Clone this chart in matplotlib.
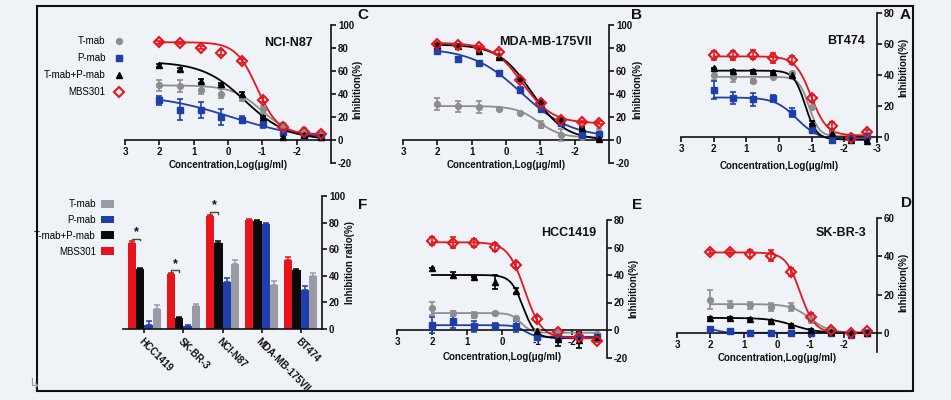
import numpy as np
import matplotlib
matplotlib.use('Agg')
import matplotlib.pyplot as plt
from matplotlib.patches import Rectangle, Patch
from matplotlib.lines import Line2D

plt.rcParams['font.family'] = ['Liberation Sans', 'DejaVu Sans']
plt.rcParams['axes.unicode_minus'] = False

W, H = 951, 400
BG = '#eff3f7'

# ---------------- data ----------------
LOG_CONC = [2.0, 1.398, 0.796, 0.194, -0.408, -1.010, -1.612, -2.214, -2.700]
SERIES = ['T-mab', 'P-mab', 'T-mab+P-mab', 'MBS301']

# A: BT474
bt474_t = [39.8, 38.5, 36.1, 39.0, 41.1, 19.3, 2.6, 0.4, 1.5]
bt474_p = [30.3, 25.3, 24.2, 24.9, 15.6, 4.8, -1.7, -0.5, 0.9]
bt474_tp = [44.2, 42.6, 42.6, 42.0, 40.0, 9.1, 2.6, -1.7, -2.8]
bt474_mbs = [52.8, 52.8, 53.2, 50.9, 49.8, 24.9, 7.4, -0.6, 3.2]
bt474_t_err = [3, 3, 1, 1, 1, 1, 1, 1, 1]
bt474_p_err = [6, 4, 4, 2, 3, 1.5, 1, 1, 1]
bt474_tp_err = [0.5, 0.5, 0.5, 0.5, 0.5, 1, 0.5, 0.5, 0.5]
bt474_mbs_err = [3, 3, 3, 3, 2.5, 2.5, 2.5, 1, 1.5]
# fitted curves: top, bottom, logIC50, hill
bt474_t_fit = [38.8, 0.5, -0.92, 2.8]
bt474_p_fit = [25.5, -2.0, -0.55, 1.3]
bt474_tp_fit = [42.8, -1.5, -0.80, 2.5]
bt474_mbs_fit = [52.0, 1.0, -0.98, 1.8]

# B: MDA-MB-175VII
mda_t = [31.3, 29.2, 28.7, 26.9, 23.4, 13.2, 4.4, 2.9, 5.8]
mda_p = [77.5, 70.8, 67.3, 57.9, 43.9, 26.9, 14.6, 4.4, 5.3]
mda_tp = [82.5, 81.9, 77.5, 72.5, 54.0, 33.6, 17.5, 10.2, 0.6]
mda_mbs = [83.9, 82.7, 81.0, 76.6, 52.6, 32.2, 17.0, 15.5, 15.2]
mda_t_err = [5, 5, 5, 1, 1, 3, 5, 1, 4]
mda_p_err = [1, 1, 1, 1, 2, 1, 1, 1, 1]
mda_tp_err = [1, 1, 1, 1, 1, 1, 1, 1, 1]
mda_mbs_err = [1, 1, 1, 2, 2, 2, 1, 1, 1]
mda_t_fit = [29.5, 2.0, -0.95, 1.3]
mda_p_fit = [80.0, 2.0, -0.45, 0.6]
mda_tp_fit = [83.0, 0.0, -0.75, 0.9]
mda_mbs_fit = [84.5, 14.5, -0.48, 1.0]

# C: NCI-N87
nci_t = [47.4, 47.0, 43.9, 40.4, 36.5, 26.9, 13.2, 7.3, 4.4]
nci_p = [34.5, 26.3, 25.7, 19.9, 17.5, 13.7, 7.3, 3.5, 2.3]
nci_tp = [64.9, 61.4, 51.2, 49.0, 40.0, 20.0, 2.3, 4.4, 3.0]
nci_mbs = [84.8, 84.5, 80.4, 76.0, 68.7, 35.0, 11.7, 7.3, 5.3]
nci_t_err = [5, 5, 4, 4, 3, 3, 2, 3, 2]
nci_p_err = [4, 9, 7, 7, 3, 3, 2, 1, 1]
nci_tp_err = [1, 1, 2, 1, 2, 1, 1, 1, 1]
nci_mbs_err = [1, 1, 1, 2, 2, 2, 1, 2, 2]
nci_t_fit = [47.5, 3.0, -1.0, 1.0]
nci_p_fit = [40.0, 0.0, -0.1, 0.4]
nci_tp_fit = [68.0, 0.0, -0.5, 0.7]
nci_mbs_fit = [85.0, 5.0, -0.85, 1.4]

# D: SK-BR-3
skbr_t = [17.4, 14.8, 14.3, 13.4, 13.6, 7.3, 0.8, 0.0, 0.0]
skbr_p = [2.1, 0.9, 0.0, 0.0, 0.0, 0.0, 0.0, -0.9, 0.0]
skbr_tp = [7.8, 7.8, 7.3, 6.1, 4.3, 1.4, 0.5, 0.0, 0.0]
skbr_mbs = [42.1, 42.1, 41.4, 40.3, 31.8, 8.3, 1.7, 0.0, 0.9]
skbr_t_err = [5, 2, 2, 2, 2, 2, 1, 0.5, 0.5]
skbr_p_err = [1, 0.5, 0.5, 0.5, 0.5, 0.5, 0.5, 0.5, 0.5]
skbr_tp_err = [0.5] * 9
skbr_mbs_err = [1, 1, 2, 3, 2, 2, 1, 0.5, 0.5]
skbr_t_fit = [15.0, 0.0, -1.0, 1.5]
skbr_p_fit = [2.5, 0.0, 1.8, 3.0]
skbr_tp_fit = [7.8, 0.0, -0.5, 1.2]
skbr_mbs_fit = [42.0, 0.0, -0.7, 2.0]

# E: HCC1419
hcc_t = [15.7, 12.1, 10.9, 12.1, 8.5, -1.0, -1.0, -4.0, -3.0]
hcc_p = [3.6, 6.8, 2.9, 2.9, 2.9, -4.8, -5.0, -5.0, -4.8]
hcc_tp = [44.8, 40.0, 38.3, 35.1, 28.6, -1.0, -6.8, -7.3, -4.8]
hcc_mbs = [64.6, 63.4, 63.4, 60.5, 47.2, 8.0, -1.5, -4.8, -7.7]
hcc_t_err = [5, 2, 2, 1, 1, 1, 1, 1, 1]
hcc_p_err = [6, 5, 4, 2, 4, 1, 1, 2, 1]
hcc_tp_err = [0, 2, 0, 5, 2, 1, 5, 6, 2]
hcc_mbs_err = [3, 4, 3, 3, 2, 2, 2, 2, 1]
hcc_t_fit = [12.3, -2.0, -0.55, 3.0]
hcc_p_fit = [3.5, -5.0, -0.65, 3.0]
hcc_tp_fit = [40.0, -6.0, -0.6, 2.5]
hcc_mbs_fit = [63.8, -6.0, -0.65, 1.8]

# F: bar chart
cell_lines = ['BT474', 'MDA-MB-175VII', 'NCI-N87', 'SK-BR-3', 'HCC1419']
bar_t = [40, 33, 49, 17, 15]
bar_p = [29, 79, 35, 2, 3]
bar_tp = [44, 81, 65, 8, 45]
bar_mbs = [52, 82, 85, 41, 65]
bar_t_err = [2, 3, 3, 2, 3]
bar_p_err = [3, 1, 3, 1, 3]
bar_tp_err = [1, 1, 1, 1, 1]
bar_mbs_err = [2, 1, 1, 1, 1]
sig_lines = ['NCI-N87', 'SK-BR-3', 'HCC1419']

STYLE = {
    'T-mab': dict(color='#8d8d8d', marker='o', ms=4.2, mfc='#8d8d8d', mew=1.0),
    'P-mab': dict(color='#1f3fa8', marker='s', ms=4.6, mfc='#1f3fa8', mew=1.0),
    'T-mab+P-mab': dict(color='#000000', marker='^', ms=4.6, mfc='#000000', mew=1.0),
    'MBS301': dict(color='#e5161d', marker='D', ms=5.0, mfc='none', mew=1.5),
}
BAR_COLORS = {'T-mab': '#9a9aa6', 'P-mab': '#1f3fae', 'T-mab+P-mab': '#0a0a0a', 'MBS301': '#e8131b'}

fig = plt.figure(figsize=(W / 100, H / 100), dpi=100, facecolor=BG)


def fx(px):
    return px / W


def fy(py):
    return 1 - py / H


def add_ax(left, right, top, bottom):
    ax = fig.add_axes([fx(left), fy(bottom), (right - left) / W, (bottom - top) / H])
    ax.set_facecolor('none')
    return ax


def logistic(x, p):
    top, bottom, ic50, hill = p
    return bottom + (top - bottom) / (1 + 10 ** ((ic50 - x) * hill))


def style_axis(ax):
    for s in ['left', 'top']:
        ax.spines[s].set_visible(False)
    for s in ['right', 'bottom']:
        ax.spines[s].set_linewidth(1.2)
        ax.spines[s].set_color('#111111')
    ax.yaxis.tick_right()
    ax.tick_params(axis='both', length=3.5, width=1.2, labelsize=7, pad=1.5, colors='#111111')
    for lab in ax.get_xticklabels() + ax.get_yticklabels():
        lab.set_fontweight('bold')


def curve_panel(rect, ylim, yticks, xticks, series, errs, fits):
    ax = add_ax(*rect)
    ax.set_xlim(3, -3)
    ax.set_ylim(*ylim)
    ax.spines['bottom'].set_position(('data', 0))
    xs = np.linspace(LOG_CONC[-1], LOG_CONC[0], 200)
    for name in SERIES:
        st = STYLE[name]
        ax.plot(xs, logistic(xs, fits[name]), color=st['color'], lw=1.3, zorder=2)
        ax.errorbar(LOG_CONC, series[name], yerr=errs[name], fmt='none', ecolor=st['color'],
                    elinewidth=1.2, capsize=2.3, capthick=1.2, zorder=3)
        ax.plot(LOG_CONC, series[name], linestyle='none', marker=st['marker'], ms=st['ms'],
                mfc=st['mfc'], mec=st['color'], mew=st['mew'], zorder=4, clip_on=False)
    ax.set_xticks(xticks)
    ax.set_xticklabels([str(int(v)) for v in xticks])
    ax.set_yticks(yticks)
    ax.set_yticklabels([str(int(v)) for v in yticks])
    style_axis(ax)
    return ax


def pack(a, b, c, d):
    return dict(zip(SERIES, [a, b, c, d]))


XT_FULL = [3, 2, 1, 0, -1, -2, -3]
XT = [3, 2, 1, 0, -1, -2]

axA = curve_panel((681, 877, 13, 141.65), (-3, 80), [0, 20, 40, 60, 80], XT_FULL,
                  pack(bt474_t, bt474_p, bt474_tp, bt474_mbs),
                  pack(bt474_t_err, bt474_p_err, bt474_tp_err, bt474_mbs_err),
                  pack(bt474_t_fit, bt474_p_fit, bt474_tp_fit, bt474_mbs_fit))
axB = curve_panel((403, 609, 25, 163), (-20, 100), [-20, 0, 20, 40, 60, 80, 100], XT,
                  pack(mda_t, mda_p, mda_tp, mda_mbs),
                  pack(mda_t_err, mda_p_err, mda_tp_err, mda_mbs_err),
                  pack(mda_t_fit, mda_p_fit, mda_tp_fit, mda_mbs_fit))
axC = curve_panel((125, 331, 25, 163), (-20, 100), [-20, 0, 20, 40, 60, 80, 100], XT,
                  pack(nci_t, nci_p, nci_tp, nci_mbs),
                  pack(nci_t_err, nci_p_err, nci_tp_err, nci_mbs_err),
                  pack(nci_t_fit, nci_p_fit, nci_tp_fit, nci_mbs_fit))
axD = curve_panel((677, 877, 218, 352), (-10, 60), [0, 20, 40, 60], XT,
                  pack(skbr_t, skbr_p, skbr_tp, skbr_mbs),
                  pack(skbr_t_err, skbr_p_err, skbr_tp_err, skbr_mbs_err),
                  pack(skbr_t_fit, skbr_p_fit, skbr_tp_fit, skbr_mbs_fit))
axE = curve_panel((397, 607, 220, 357.5), (-20, 80), [-20, 0, 20, 40, 60, 80], XT,
                  pack(hcc_t, hcc_p, hcc_tp, hcc_mbs),
                  pack(hcc_t_err, hcc_p_err, hcc_tp_err, hcc_mbs_err),
                  pack(hcc_t_fit, hcc_p_fit, hcc_tp_fit, hcc_mbs_fit))

# legend for C
handles = [Line2D([], [], linestyle='none', marker=STYLE[n]['marker'], ms=STYLE[n]['ms'],
                  mfc=STYLE[n]['mfc'], mec=STYLE[n]['color'], mew=STYLE[n]['mew']) for n in SERIES]
fig.legend(handles, SERIES, loc='upper right', bbox_to_anchor=(fx(124), fy(36)),
           bbox_transform=fig.transFigure, frameon=False, markerfirst=False,
           prop=dict(size=7), handlelength=1.0, handletextpad=0.9, labelspacing=0.72,
           borderpad=0, borderaxespad=0)

# ---------------- F: bar chart ----------------
axF = add_ax(123, 322, 196, 329)
axF.set_xlim(len(cell_lines) - 0.45, -0.55)
axF.set_ylim(0, 100)
xpos = np.arange(len(cell_lines))
bw = 0.21
bar_vals = pack(bar_t, bar_p, bar_tp, bar_mbs)
bar_errs = pack(bar_t_err, bar_p_err, bar_tp_err, bar_mbs_err)
offsets = dict(zip(SERIES, [-1.5 * bw, -0.5 * bw, 0.5 * bw, 1.5 * bw]))
for name in SERIES:
    e = bar_errs[name]
    axF.bar(xpos + offsets[name], bar_vals[name], width=bw, color=BAR_COLORS[name],
            yerr=[[0] * len(e), e], error_kw=dict(ecolor=BAR_COLORS[name], elinewidth=1.1,
                                                   capsize=2, capthick=1.1), zorder=2)
for cl in sig_lines:
    i = cell_lines.index(cl)
    xr = i + offsets['MBS301']
    xb = i + offsets['T-mab+P-mab']
    h = bar_vals['MBS301'][i] + 3
    axF.plot([xr, xr, xb, xb], [h - 1.2, h, h, h - 1.2], color='#4a4a28', lw=1.0, zorder=3)
    axF.text((xr + xb) / 2, h + 0.5, '*', ha='center', va='bottom', fontsize=9,
             fontweight='bold', color='#111111')
axF.set_xticks(xpos)
axF.set_xticklabels(cell_lines, rotation=-45, ha='left', va='top', rotation_mode='anchor')
axF.set_yticks([0, 20, 40, 60, 80, 100])
style_axis(axF)
axF.tick_params(axis='x', length=3, pad=2)

bar_handles = [Patch(facecolor=BAR_COLORS[n], edgecolor='none') for n in SERIES]
fig.legend(bar_handles, SERIES, loc='upper right', bbox_to_anchor=(fx(114), fy(199)),
           bbox_transform=fig.transFigure, frameon=False, markerfirst=False,
           prop=dict(size=7), handlelength=1.35, handleheight=0.85, handletextpad=0.5,
           labelspacing=0.6, borderpad=0, borderaxespad=0)

# ---------------- text ----------------
TXT = dict(fontweight='bold', color='#111111')
for (px, py, s) in [(846, 41, 'BT474'), (546, 42, 'MDA-MB-175VII'), (288, 43, 'NCI-N87'),
                    (841, 233, 'SK-BR-3'), (569, 233, 'HCC1419')]:
    fig.text(fx(px), fy(py), s, ha='center', va='center', fontsize=9, **TXT)

for (px, py, s) in [(905, 15, 'A'), (637, 15, 'B'), (363, 15, 'C'),
                    (906, 203, 'D'), (637, 205, 'E'), (363, 205, 'F')]:
    fig.text(fx(px), fy(py), s, ha='center', va='center', fontsize=11, **TXT)

for (px, py) in [(779, 166), (506, 165), (228, 165), (777, 358), (502, 357)]:
    fig.text(fx(px), fy(py), 'Concentration,Log(\u03bcg/ml)', ha='center', va='center',
             fontsize=7, **TXT)

for (px, py, s) in [(903, 67, 'Inhibition(%)'), (637, 89, 'Inhibition(%)'),
                    (357, 89, 'Inhibition(%)'), (903, 282, 'Inhibition(%)'),
                    (633, 288, 'Inhibition(%)'), (350, 262, 'Inhibition ratio(%)')]:
    fig.text(fx(px), fy(py), s, ha='center', va='center', rotation=90, fontsize=7, **TXT)

# outer frame
fig.add_artist(Rectangle((fx(37), fy(391)), (913 - 37) / W, (391 - 6) / H, fill=False,
                         lw=1.5, edgecolor='#111111', transform=fig.transFigure))
fig.text(fx(34), fy(385), '\u21b3', ha='center', va='center', fontsize=10, color='#999999',
         family='DejaVu Sans')

fig.savefig('out.png', dpi=100, facecolor=BG)
